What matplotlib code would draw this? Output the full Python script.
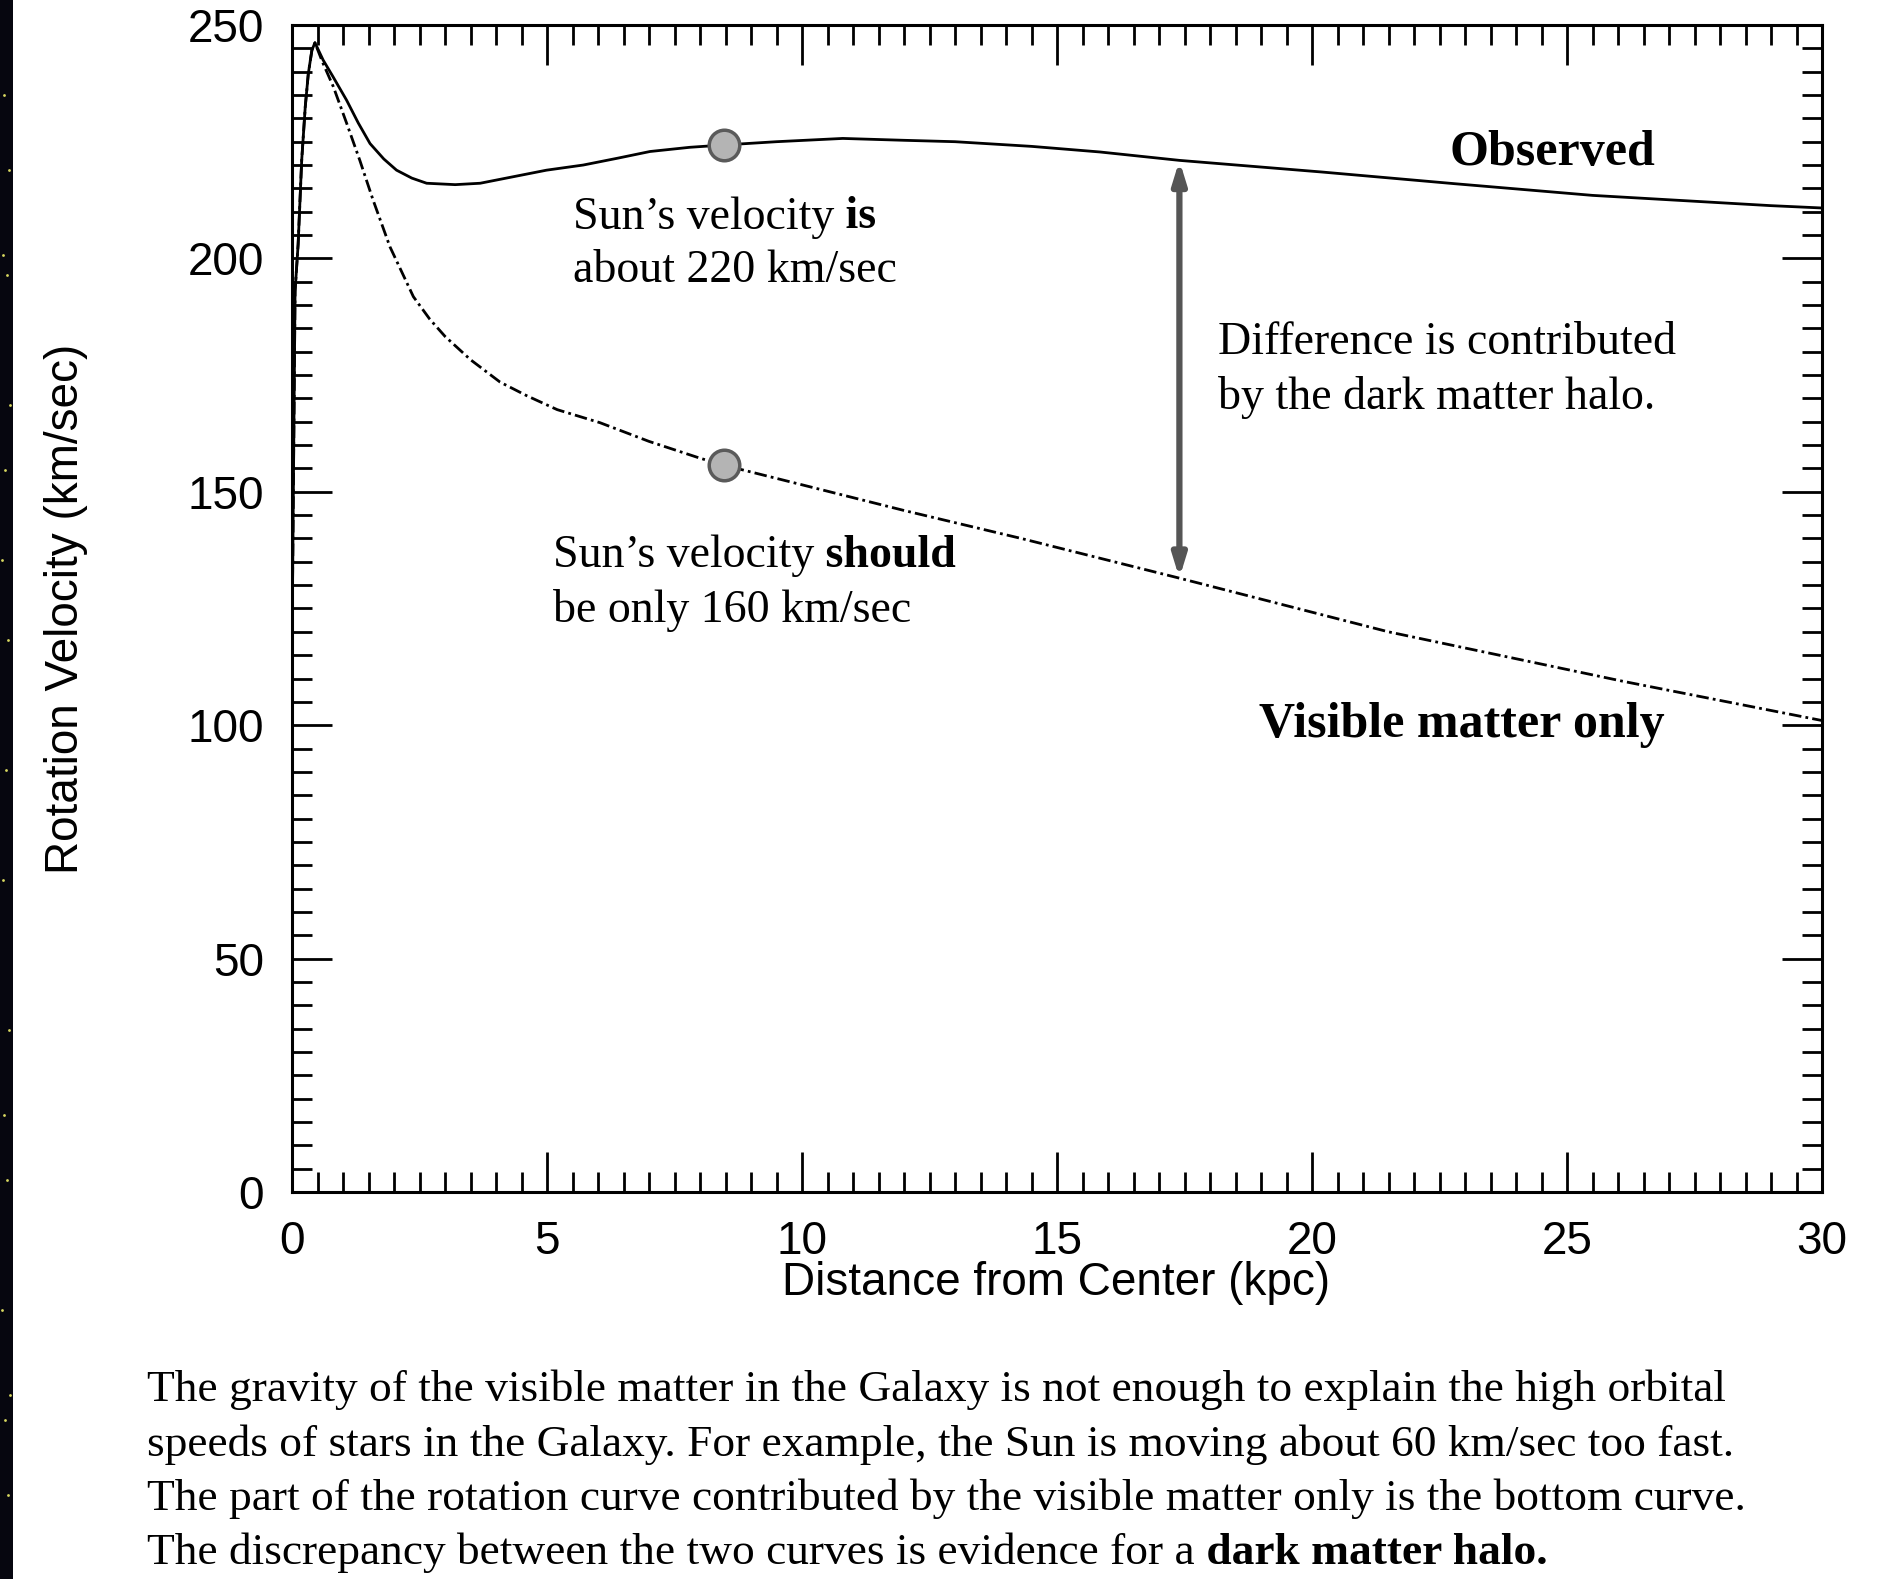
import matplotlib
matplotlib.use("Agg")
import matplotlib.pyplot as plt
import matplotlib.transforms as mtransforms
import numpy as np

# ---- data -------------------------------------------------------------
# Observed rotation curve of the Galaxy (kpc, km/s)
r_observed = [0.0, 0.06, 0.12, 0.19, 0.26, 0.32, 0.39, 0.45, 0.61, 0.8, 1.07, 1.3,
              1.53, 1.8, 2.05, 2.35, 2.64, 3.2, 3.69, 4.34, 4.99, 5.71, 6.4, 7.02,
              7.8, 8.47, 9.5, 10.8, 12.0, 13.0, 14.5, 15.84, 17.4, 20.2, 22.8, 25.5,
              29.0, 30.0]
v_observed = [116, 193, 203, 221, 232.5, 239.6, 244.6, 246.2, 242.5, 239.0, 233.9, 229.0,
              224.6, 221.3, 218.9, 217.2, 216.1, 215.8, 216.1, 217.5, 218.9, 220.0, 221.5, 222.9,
              223.8, 224.3, 225.0, 225.7, 225.3, 225.0, 224.0, 222.8, 221.0, 218.5, 216.0, 213.5,
              211.3, 210.8]

# Contribution of the visible matter alone
r_visible = [0.0, 0.06, 0.12, 0.19, 0.26, 0.32, 0.39, 0.45, 0.6, 0.81, 1.07, 1.33,
             1.59, 1.92, 2.38, 2.7, 3.0, 3.5, 4.08, 4.6, 5.2, 6.04, 7.0, 8.0,
             8.47, 10.0, 12.0, 14.3, 17.4, 21.5, 26.1, 30.0]
v_visible = [116, 193, 203, 221, 232.5, 239.6, 244.6, 246.2, 242.0, 236.8, 229.0, 221.0,
             212.5, 202.5, 191.8, 187.0, 183.3, 178.3, 173.5, 170.6, 167.6, 164.8, 160.8, 157.2,
             155.7, 151.5, 146.0, 140.0, 131.5, 120.0, 109.4, 101.0]

sun_radius = 8.47          # kpc
halo_arrow_radius = 17.4   # kpc

x_ticks = [0, 5, 10, 15, 20, 25, 30]
y_ticks = [0, 50, 100, 150, 200, 250]

caption_lines = [
    [("The gravity of the visible matter in the Galaxy is not enough to explain the high orbital", "normal")],
    [("speeds of stars in the Galaxy. For example, the Sun is moving about 60 km/sec too fast.", "normal")],
    [("The part of the rotation curve contributed by the visible matter only is the bottom curve.", "normal")],
    [("The discrepancy between the two curves is evidence for a", "normal"),
     (" dark matter halo.", "bold")],
]

# ---- figure -----------------------------------------------------------
W, H = 1889, 1579
DPI = 100
SANS = "Liberation Sans"
SERIF = "Liberation Serif"
plt.rcParams["lines.scale_dashes"] = False

fig = plt.figure(figsize=(W / DPI, H / DPI), dpi=DPI, facecolor="white")

# dark starfield strip along the left edge
strip = fig.add_axes([0, 0, 13 / W, 1])
strip.set_facecolor("#06060f")
strip.set_xlim(0, 13)
strip.set_ylim(H, 0)
star_x = [4, 9, 3, 7, 10, 5, 2, 8, 6, 3, 9, 4, 7, 2, 10, 5, 8]
star_y = [95, 170, 255, 275, 405, 470, 560, 640, 770, 880, 1030, 1115, 1180, 1310, 1395, 1420, 1495]
strip.scatter(star_x, star_y, s=4, color="#d8d860", linewidths=0)
for sp in strip.spines.values():
    sp.set_visible(False)
strip.set_xticks([])
strip.set_yticks([])

# main plot area
left, right, top, bottom = 292, 1822, 25, 1192
ax = fig.add_axes([left / W, 1 - bottom / H, (right - left) / W, (bottom - top) / H])
ax.set_xlim(0, 30)
ax.set_ylim(0, 250)

ax.plot(r_observed, v_observed, color="black", lw=2.0, solid_joinstyle="round")
ax.plot(r_visible, v_visible, color="black", lw=2.0, linestyle=(0, (9, 3, 2, 3)))

# Sun markers placed on each curve
sun_obs = np.interp(sun_radius, r_observed, v_observed)
sun_vis = np.interp(sun_radius, r_visible, v_visible)
ax.plot([sun_radius, sun_radius], [sun_obs, sun_vis], linestyle="none", marker="o",
        markersize=22, markerfacecolor="#b4b4b4", markeredgecolor="#5a5a5a",
        markeredgewidth=2.5, zorder=5)

# double-headed arrow showing the halo contribution
arr_top = np.interp(halo_arrow_radius, r_observed, v_observed)
arr_bot = np.interp(halo_arrow_radius, r_visible, v_visible)
ax.annotate("", xy=(halo_arrow_radius, arr_top), xytext=(halo_arrow_radius, arr_bot),
            arrowprops=dict(arrowstyle="<|-|>,head_length=1.3,head_width=0.4",
                            color="#555555", lw=4.5, shrinkA=0, shrinkB=0))
ax.plot([halo_arrow_radius, halo_arrow_radius], [arr_bot + 6, arr_top - 6],
        color="black", lw=1.2, linestyle=(0, (1.2, 9)))

# axes styling
for sp in ax.spines.values():
    sp.set_linewidth(2.2)
ax.set_xticks(x_ticks)
ax.set_yticks(y_ticks)
ax.set_xticks(np.arange(0, 30.01, 0.5), minor=True)
ax.set_yticks(np.arange(0, 250.01, 5), minor=True)
ax.tick_params(which="both", direction="in", top=True, right=True, width=2.0, color="black")
ax.tick_params(which="major", length=29)
ax.tick_params(which="minor", length=14.5)
ax.tick_params(axis="y", which="major", pad=20)
ax.tick_params(axis="x", which="major", pad=20)
for lab in ax.get_xticklabels() + ax.get_yticklabels():
    lab.set_fontfamily(SANS)
    lab.set_fontsize(33)

ax.set_xlabel("Distance from Center (kpc)", fontfamily=SANS, fontsize=33)
ax.set_ylabel("Rotation Velocity (km/sec)", fontfamily=SANS, fontsize=33)
ax.xaxis.set_label_coords((1056 - left) / (right - left), (bottom - 1261) / (bottom - top))
ax.yaxis.set_label_coords((88 - left) / (right - left), 0.5)

# ---- text -------------------------------------------------------------
renderer = fig.canvas.get_renderer()


def rich_line(x, y, parts, transform, size):
    """Draw consecutive text runs of different weights along one row."""
    trans = transform
    for s, weight in parts:
        t = fig.text(x, y, s, transform=trans, fontfamily=SERIF, fontsize=size,
                     fontweight=weight, va="center", ha="left", color="black")
        ext = t.get_window_extent(renderer)
        trans = mtransforms.offset_copy(t.get_transform(), x=ext.width, units="dots")


data_tr = ax.transData
ANN = 33
rich_line(22.69, 222.6, [("Observed", "bold")], data_tr, 36)
rich_line(18.96, 100.1, [("Visible matter only", "bold")], data_tr, 36)
rich_line(5.51, 208.8, [("Sun\u2019s velocity", "normal"), (" is", "bold")], data_tr, ANN)
rich_line(5.51, 197.3, [("about 220 km/sec", "normal")], data_tr, ANN)
rich_line(5.12, 136.2, [("Sun\u2019s velocity", "normal"), (" should", "bold")], data_tr, ANN)
rich_line(5.12, 124.6, [("be only 160 km/sec", "normal")], data_tr, ANN)
rich_line(18.16, 181.9, [("Difference is contributed", "normal")], data_tr, ANN)
rich_line(18.16, 170.3, [("by the dark matter halo.", "normal")], data_tr, ANN)

caption_y = [1390, 1445, 1499, 1553]
for parts, py in zip(caption_lines, caption_y):
    rich_line(147 / W, 1 - py / H, parts, fig.transFigure, 32.7)

fig.savefig("out.png", dpi=DPI, facecolor="white")
